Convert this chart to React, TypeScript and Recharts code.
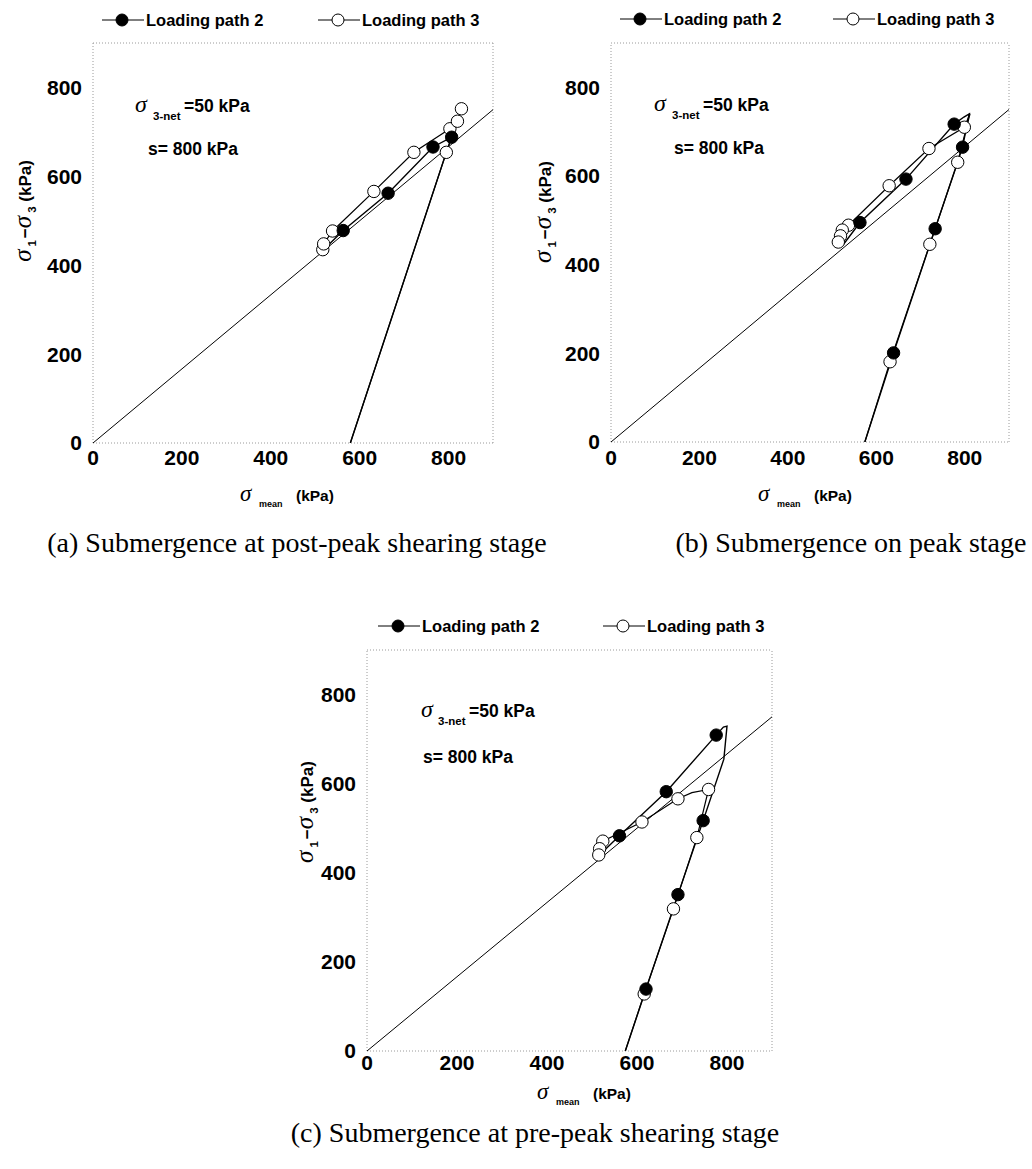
import React from 'react';
import { ComposedChart, Line, Scatter, XAxis, YAxis, ReferenceLine } from 'recharts';

type Pt = { x: number; y: number };

const SANS = "'Liberation Sans', Arial, sans-serif";
const NARROW = "'Liberation Sans Narrow', 'Liberation Sans', Arial, sans-serif";
const SERIF = "'Liberation Serif', 'Times New Roman', serif";

const axisTicks = [0, 200, 400, 600, 800];
const axisDomain: [number, number] = [0, 900];

// strength line through the origin, same in all three panels
const failureLine: Pt[] = [
  { x: 0, y: 0 },
  { x: 900, y: 750 },
];

// (a) submergence at post-peak shearing stage
const aPath2Line: Pt[] = [
  { x: 579, y: 0 }, { x: 795, y: 654 }, { x: 807, y: 688 }, { x: 765, y: 666 },
  { x: 664, y: 562 }, { x: 563, y: 478 }, { x: 522, y: 438 },
];
const aPath2Points: Pt[] = [
  { x: 563, y: 478 }, { x: 664, y: 562 }, { x: 765, y: 666 }, { x: 807, y: 688 },
];
const aPath3Line: Pt[] = [
  { x: 579, y: 0 }, { x: 795, y: 654 }, { x: 829, y: 752 }, { x: 820, y: 724 },
  { x: 803, y: 707 }, { x: 722, y: 654 }, { x: 632, y: 566 }, { x: 539, y: 477 },
  { x: 519, y: 448 }, { x: 517, y: 435 },
];
const aPath3Points: Pt[] = [
  { x: 517, y: 435 }, { x: 519, y: 448 }, { x: 539, y: 477 }, { x: 632, y: 566 },
  { x: 722, y: 654 }, { x: 795, y: 654 }, { x: 803, y: 707 }, { x: 820, y: 724 },
  { x: 829, y: 752 },
];

// (b) submergence on peak stage
const bPath2Line: Pt[] = [
  { x: 574, y: 0 }, { x: 639, y: 201 }, { x: 733, y: 481 }, { x: 795, y: 665 },
  { x: 810, y: 740 }, { x: 798, y: 733 }, { x: 776, y: 717 }, { x: 667, y: 593 },
  { x: 563, y: 495 }, { x: 525, y: 445 },
];
const bPath2Points: Pt[] = [
  { x: 639, y: 201 }, { x: 733, y: 481 }, { x: 795, y: 665 }, { x: 776, y: 717 },
  { x: 667, y: 593 }, { x: 563, y: 495 },
];
const bPath3Line: Pt[] = [
  { x: 574, y: 0 }, { x: 631, y: 181 }, { x: 721, y: 446 }, { x: 784, y: 631 },
  { x: 812, y: 741 }, { x: 799, y: 710 }, { x: 719, y: 662 }, { x: 629, y: 578 },
  { x: 537, y: 489 }, { x: 523, y: 478 }, { x: 519, y: 465 }, { x: 514, y: 451 },
];
const bPath3Points: Pt[] = [
  { x: 631, y: 181 }, { x: 721, y: 446 }, { x: 784, y: 631 }, { x: 799, y: 710 },
  { x: 719, y: 662 }, { x: 629, y: 578 }, { x: 537, y: 489 }, { x: 523, y: 478 },
  { x: 519, y: 465 }, { x: 514, y: 451 },
];

// (c) submergence at pre-peak shearing stage
const cPath2Line: Pt[] = [
  { x: 574, y: 0 }, { x: 620, y: 139 }, { x: 691, y: 351 }, { x: 747, y: 517 },
  { x: 793, y: 655 }, { x: 800, y: 729 }, { x: 792, y: 727 }, { x: 776, y: 709 },
  { x: 665, y: 582 }, { x: 561, y: 483 }, { x: 527, y: 450 },
];
const cPath2Points: Pt[] = [
  { x: 620, y: 139 }, { x: 691, y: 351 }, { x: 747, y: 517 }, { x: 776, y: 709 },
  { x: 665, y: 582 }, { x: 561, y: 483 },
];
const cPath3Line: Pt[] = [
  { x: 574, y: 0 }, { x: 616, y: 128 }, { x: 681, y: 319 }, { x: 733, y: 479 },
  { x: 759, y: 587 }, { x: 722, y: 580 }, { x: 691, y: 566 }, { x: 611, y: 514 },
  { x: 524, y: 471 }, { x: 517, y: 454 }, { x: 515, y: 440 },
];
const cPath3Points: Pt[] = [
  { x: 616, y: 128 }, { x: 681, y: 319 }, { x: 733, y: 479 }, { x: 759, y: 587 },
  { x: 691, y: 566 }, { x: 611, y: 514 }, { x: 524, y: 471 }, { x: 517, y: 454 },
  { x: 515, y: 440 },
];

const legendNames = ['Loading path 2', 'Loading path 3'];

const panels = [
  {
    id: 'a',
    plot: { left: 93, top: 43, width: 400, height: 400 },
    xTickMargin: 7,
    lines: [aPath2Line, aPath3Line],
    points: [aPath2Points, aPath3Points],
    legend: { y: 20, x: [102, 318] },
    yTitle: { x: 31, y: 211 },
    xTitle: { x: 240, y: 501 },
    anno: { x: 135, y: 112, subX: 153, eqX: 184, sX: 148, sY: 155 },
    caption: { x: 297, y: 552, text: '(a) Submergence at post-peak shearing stage' },
  },
  {
    id: 'b',
    plot: { left: 611, top: 43, width: 398, height: 399 },
    xTickMargin: 8,
    lines: [bPath2Line, bPath3Line],
    points: [bPath2Points, bPath3Points],
    legend: { y: 19, x: [620, 833] },
    yTitle: { x: 551, y: 212 },
    xTitle: { x: 758, y: 501 },
    anno: { x: 654, y: 111, subX: 672, eqX: 703, sX: 674, sY: 154 },
    caption: { x: 851, y: 552, text: '(b) Submergence on peak stage' },
  },
  {
    id: 'c',
    plot: { left: 367, top: 650, width: 405, height: 401 },
    xTickMargin: 4,
    lines: [cPath2Line, cPath3Line],
    points: [cPath2Points, cPath3Points],
    legend: { y: 626, x: [378, 603] },
    yTitle: { x: 313, y: 812 },
    xTitle: { x: 537, y: 1099 },
    anno: { x: 421, y: 717, subX: 438, eqX: 469, sX: 423, sY: 763 },
    caption: { x: 535, y: 1142, text: '(c) Submergence at pre-peak shearing stage' },
  },
];

const filledDot = (p: any) => <circle cx={p.cx} cy={p.cy} r={6.2} fill="#000" stroke="#000" strokeWidth={1} />;
const openDot = (p: any) => <circle cx={p.cx} cy={p.cy} r={6.2} fill="#fff" stroke="#000" strokeWidth={1} />;

function PanelChart({ panel }: { panel: (typeof panels)[number] }) {
  const { plot } = panel;
  const yAxisW = 93;
  const m = { top: 10, right: 10, left: 0, bottom: 0 };
  const xAxisH = 30;
  const width = plot.width + yAxisW + m.right;
  const height = plot.height + m.top + xAxisH;
  const tickStyle = { fontSize: 21, fontWeight: 'bold', fill: '#000', fontFamily: NARROW };
  const border = { stroke: '#9a9a9a', strokeDasharray: '1 2', strokeWidth: 1 };
  return (
    <div style={{ position: 'absolute', left: plot.left - yAxisW, top: plot.top - m.top }}>
      <ComposedChart width={width} height={height} margin={m}>
        <XAxis
          type="number"
          dataKey="x"
          domain={axisDomain}
          ticks={axisTicks}
          allowDataOverflow
          axisLine={false}
          tickLine={false}
          tickSize={0}
          tickMargin={panel.xTickMargin}
          height={xAxisH}
          tick={tickStyle}
        />
        <YAxis
          type="number"
          dataKey="y"
          domain={axisDomain}
          ticks={axisTicks}
          allowDataOverflow
          axisLine={false}
          tickLine={false}
          tickSize={0}
          tickMargin={11}
          width={yAxisW}
          tick={tickStyle}
        />
        <ReferenceLine x={0} {...border} />
        <ReferenceLine x={900} {...border} />
        <ReferenceLine y={0} {...border} />
        <ReferenceLine y={900} {...border} />
        <Line data={failureLine} dataKey="y" type="linear" stroke="#000" strokeWidth={1} dot={false} isAnimationActive={false} />
        <Line data={panel.lines[1]} dataKey="y" type="linear" stroke="#000" strokeWidth={1.2} dot={false} isAnimationActive={false} />
        <Line data={panel.lines[0]} dataKey="y" type="linear" stroke="#000" strokeWidth={1.4} dot={false} isAnimationActive={false} />
        <Scatter data={panel.points[1]} dataKey="y" shape={openDot} isAnimationActive={false} />
        <Scatter data={panel.points[0]} dataKey="y" shape={filledDot} isAnimationActive={false} />
      </ComposedChart>
    </div>
  );
}

function PanelText({ panel }: { panel: (typeof panels)[number] }) {
  const { legend, yTitle, xTitle, anno, caption } = panel;
  return (
    <g>
      {legendNames.map((name, i) => {
        const x = legend.x[i];
        return (
          <g key={name}>
            <line x1={x} x2={x + 42} y1={legend.y} y2={legend.y} stroke="#000" strokeWidth={1} />
            <circle cx={x + 20} cy={legend.y} r={6} fill={i === 0 ? '#000' : '#fff'} stroke="#000" strokeWidth={1} />
            <text x={x + 44} y={legend.y + 6} fontFamily={SANS} fontWeight="bold" fontSize={16.5} fill="#000">
              {name}
            </text>
          </g>
        );
      })}

      <text
        x={yTitle.x}
        y={yTitle.y}
        transform={`rotate(-90 ${yTitle.x} ${yTitle.y})`}
        textAnchor="middle"
        fill="#000"
        fontFamily={SANS}
        fontWeight="bold"
        fontSize={17}
      >
        <tspan fontFamily={SERIF} fontStyle="italic" fontWeight="normal" fontSize={25}>σ</tspan>
        <tspan fontSize={11.5} dy={5} dx={3}>1</tspan>
        <tspan dy={-5} dx={2}>−</tspan>
        <tspan fontFamily={SERIF} fontStyle="italic" fontWeight="normal" fontSize={25}>σ</tspan>
        <tspan fontSize={11.5} dy={5} dx={3}>3</tspan>
        <tspan dy={-5}> (kPa)</tspan>
      </text>

      <text y={xTitle.y} fill="#000" fontFamily={SANS} fontWeight="bold" fontSize={15.5}>
        <tspan x={xTitle.x} fontFamily={SERIF} fontStyle="italic" fontWeight="normal" fontSize={23}>σ</tspan>
        <tspan x={xTitle.x + 19} y={xTitle.y + 6} fontSize={9}>mean</tspan>
        <tspan x={xTitle.x + 56} y={xTitle.y}>(kPa)</tspan>
      </text>

      <text y={anno.y} fill="#000" fontFamily={SANS} fontWeight="bold" fontSize={17.5}>
        <tspan x={anno.x} fontFamily={SERIF} fontStyle="italic" fontWeight="normal" fontSize={24}>σ</tspan>
        <tspan x={anno.subX} y={anno.y + 8} fontSize={11.5}>3-net</tspan>
        <tspan x={anno.eqX} y={anno.y}>=50 kPa</tspan>
      </text>
      <text x={anno.sX} y={anno.sY} fill="#000" fontFamily={SANS} fontWeight="bold" fontSize={17.5}>
        s= 800 kPa
      </text>

      <text x={caption.x} y={caption.y} textAnchor="middle" fill="#000" fontFamily={SERIF} fontSize={28}>
        {caption.text}
      </text>
    </g>
  );
}

export default function App() {
  return (
    <div style={{ position: 'absolute', left: 0, top: 0, width: 1032, height: 1169, background: '#fff', overflow: 'hidden' }}>
      <svg width={1032} height={1169} style={{ position: 'absolute', left: 0, top: 0 }}>
        {panels.map((p) => (
          <PanelText key={p.id} panel={p} />
        ))}
      </svg>
      {panels.map((p) => (
        <PanelChart key={p.id} panel={p} />
      ))}
    </div>
  );
}
